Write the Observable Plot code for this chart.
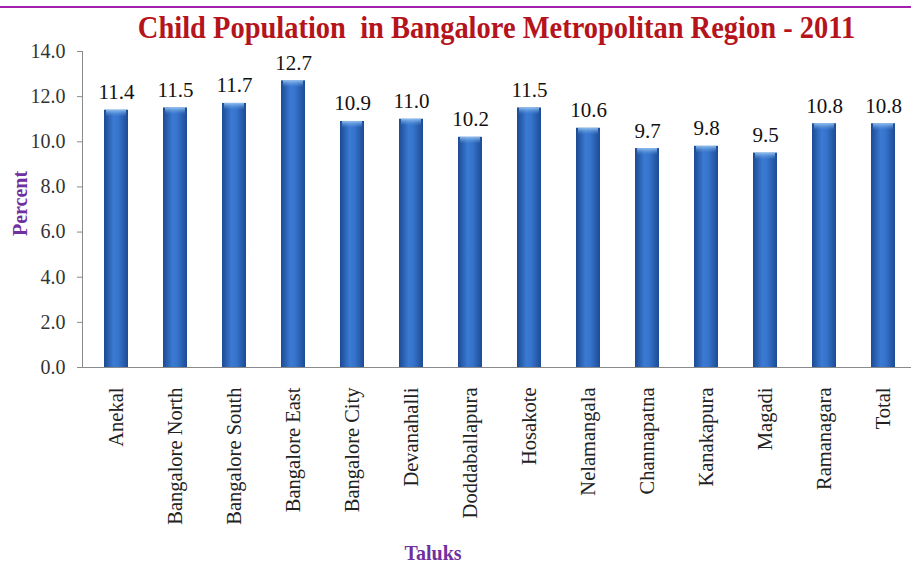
<!DOCTYPE html>
<html>
<head>
<meta charset="utf-8">
<script src="https://cdn.jsdelivr.net/npm/d3@7"></script>
<script src="https://cdn.jsdelivr.net/npm/@observablehq/plot@0.6"></script>
<style>
  html, body { margin: 0; padding: 0; background: #fff; }
  #wrap { width: 911px; height: 563px; position: relative; overflow: hidden; }
  #topline { position: absolute; left: 0; top: 6px; width: 911px; height: 2px; background: #a21fb0; }
  #title { position: absolute; left: 41px; top: 9px; width: 911px; height: 36px; text-align: center;
    font-family: "Liberation Serif", "Times New Roman", serif; font-weight: bold; font-size: 32px;
    color: #b5141c; line-height: 36px; transform: scaleX(0.89); transform-origin: center; white-space: nowrap; }
  #chart { position: absolute; left: 0; top: 44px; }
</style>
</head>
<body>
<div id="wrap">
  <div id="topline"></div>
  <div id="title">Child Population&nbsp; in Bangalore Metropolitan Region - 2011</div>
  <div id="chart"></div>
</div>
<script>
const taluks = ["Anekal", "Bangalore North", "Bangalore South", "Bangalore East", "Bangalore City",
  "Devanahalli", "Doddaballapura", "Hosakote", "Nelamangala", "Channapatna", "Kanakapura",
  "Magadi", "Ramanagara", "Total"];
const percent = [11.4, 11.5, 11.7, 12.7, 10.9, 11.0, 10.2, 11.5, 10.6, 9.7, 9.8, 9.5, 10.8, 10.8];
const yTicks = [0, 2, 4, 6, 8, 10, 12, 14];
const xTitle = "Taluks";
const yTitle = "Percent";

const data = taluks.map((t, i) => ({taluk: t, value: percent[i]}));

const plot = Plot.plot({
  width: 911,
  height: 519,
  marginLeft: 82,
  marginRight: 0,
  marginTop: 7,
  marginBottom: 196,
  style: {fontFamily: "'Liberation Serif', 'Times New Roman', serif", fontSize: "19px", background: "transparent", overflow: "visible"},
  x: {domain: taluks, range: [82, 917], paddingInner: 0.6, paddingOuter: 0.3, label: null},
  y: {domain: [0, 14], label: null},
  marks: [
    Plot.barY(data, {x: "taluk", y: "value", fill: "url(#barGrad)"}),
    Plot.barY(data, {x: "taluk", y1: d => d.value - 0.3, y2: "value", fill: "url(#capGrad)", insetLeft: 2, insetRight: 2}),
    Plot.frame({anchor: "left", stroke: "#8a8a8a"}),
    Plot.ruleY([0], {stroke: "#8a8a8a"}),
    Plot.axisY({ticks: yTicks, tickFormat: d3.format(".1f"), tickSize: 5, tickPadding: 12, stroke: "#8a8a8a", fill: "#333", fontSize: 20, label: null}),
    Plot.axisX({tickRotate: -90, tickSize: 0, tickPadding: 20, fontSize: 20.5, fill: "#222", label: null}),
    Plot.text(data, {x: "taluk", y: "value", text: d => d.value.toFixed(1), lineAnchor: "bottom", dy: -11, fontSize: 21, fill: "#111"}),
    Plot.text([xTitle], {frameAnchor: "bottom", dx: -64, dy: 192, fontSize: 20, fontWeight: "bold", fill: "#7030a0"}),
    Plot.text([yTitle], {frameAnchor: "left", textAnchor: "middle", rotate: -90, dx: -62, dy: -6, fontSize: 20, fontWeight: "bold", fill: "#7030a0"})
  ]
});

plot.insertAdjacentHTML("afterbegin",
  '<defs><linearGradient id="barGrad" x1="0" x2="1" y1="0" y2="0">' +
  '<stop offset="0" stop-color="#1c4a92"/>' +
  '<stop offset="0.4" stop-color="#3b7ad3"/>' +
  '<stop offset="0.6" stop-color="#3674cc"/>' +
  '<stop offset="1" stop-color="#1d4b94"/>' +
  '</linearGradient>' +
  '<linearGradient id="capGrad" x1="0" x2="0" y1="0" y2="1">' +
  '<stop offset="0" stop-color="#9cc8f2" stop-opacity="0.9"/>' +
  '<stop offset="1" stop-color="#5a97e0" stop-opacity="0"/>' +
  '</linearGradient></defs>');
document.getElementById("chart").appendChild(plot);
</script>
</body>
</html>
